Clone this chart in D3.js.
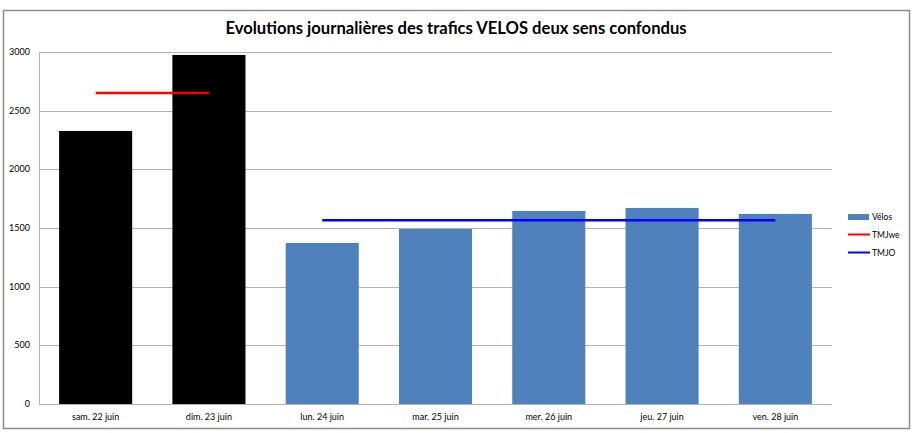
<!doctype html>
<html>
<head>
<meta charset="utf-8"/>
<title>Evolutions journalières des trafics VELOS</title>
<script src="https://d3js.org/d3.v7.min.js"></script>
<style>
  body { margin: 0; background: #fff; }
  text { font-family: Lato, "Open Sans", sans-serif; }
</style>
</head>
<body>
<div id="chart"></div>
<script>
// données
var jours = ["sam. 22 juin", "dim. 23 juin", "lun. 24 juin", "mar. 25 juin",
             "mer. 26 juin", "jeu. 27 juin", "ven. 28 juin"];
var velos = [2327, 2975, 1372, 1492, 1645, 1671, 1620];
var weekend = [true, true, false, false, false, false, false];
var tmjwe = 2651;   // moyenne sam-dim
var tmjo = 1566;    // moyenne lun-ven
var yTicks = [0, 500, 1000, 1500, 2000, 2500, 3000];
var legende = ["Vélos", "TMJwe", "TMJO"];

var W = 914, H = 433;
var gauche = 39, droite = 832, haut = 52, bas = 404;

var svg = d3.select("#chart").append("svg")
    .attr("width", W)
    .attr("height", H);

// cadre
svg.append("rect")
    .attr("x", 3.5).attr("y", 10.5)
    .attr("width", 906).attr("height", 418)
    .attr("fill", "white")
    .attr("stroke", "#8c8c8c")
    .attr("stroke-width", 1.5);

var x = d3.scaleBand()
    .domain(jours)
    .range([gauche, droite])
    .paddingInner(0.355)
    .paddingOuter(0.1775);

var y = d3.scaleLinear()
    .domain([0, 3000])
    .range([bas, haut]);

// grille
svg.append("g").selectAll("line")
    .data(yTicks)
    .enter().append("line")
    .attr("x1", gauche).attr("x2", droite)
    .attr("y1", function(d) { return Math.round(y(d)) + 0.5; })
    .attr("y2", function(d) { return Math.round(y(d)) + 0.5; })
    .attr("stroke", "#b3b3b3")
    .attr("stroke-width", 1);

// axe vertical
svg.append("line")
    .attr("x1", gauche + 0.5).attr("x2", gauche + 0.5)
    .attr("y1", haut).attr("y2", bas)
    .attr("stroke", "#b3b3b3");

svg.append("g").selectAll("text")
    .data(yTicks)
    .enter().append("text")
    .attr("x", 30)
    .attr("y", function(d) { return y(d) + 3; })
    .attr("text-anchor", "end")
    .attr("font-size", "9px")
    .text(function(d) { return d; });

// barres
svg.append("g").selectAll("rect")
    .data(velos)
    .enter().append("rect")
    .attr("x", function(d, i) { return x(jours[i]); })
    .attr("y", function(d) { return y(d); })
    .attr("width", x.bandwidth())
    .attr("height", function(d) { return bas - y(d); })
    .attr("fill", function(d, i) { return weekend[i] ? "#000000" : "#4f81bd"; });

// libellés x
svg.append("g").selectAll("text")
    .data(jours)
    .enter().append("text")
    .attr("x", function(d) { return x(d) + x.bandwidth() / 2; })
    .attr("y", 420)
    .attr("text-anchor", "middle")
    .attr("font-size", "9px")
    .text(function(d) { return d; });

// moyennes
var cx = function(j) { return x(j) + x.bandwidth() / 2; };
svg.append("line")
    .attr("x1", cx(jours[0])).attr("x2", cx(jours[1]))
    .attr("y1", y(tmjwe)).attr("y2", y(tmjwe))
    .attr("stroke", "#ff0000").attr("stroke-width", 2.5);
svg.append("line")
    .attr("x1", cx(jours[2])).attr("x2", cx(jours[6]))
    .attr("y1", y(tmjo)).attr("y2", y(tmjo))
    .attr("stroke", "#0000ff").attr("stroke-width", 2.5);

// titre
svg.append("text")
    .attr("x", 456)
    .attr("y", 34)
    .attr("text-anchor", "middle")
    .attr("font-size", "16.6px")
    .attr("font-weight", "bold")
    .text("Evolutions journalières des trafics VELOS deux sens confondus");

// légende
var leg = svg.append("g");
leg.append("rect")
    .attr("x", 848).attr("y", 214)
    .attr("width", 21).attr("height", 6)
    .attr("fill", "#4f81bd");
leg.append("line")
    .attr("x1", 848).attr("x2", 870)
    .attr("y1", 234.5).attr("y2", 234.5)
    .attr("stroke", "#ff0000").attr("stroke-width", 2);
leg.append("line")
    .attr("x1", 848).attr("x2", 870)
    .attr("y1", 252.5).attr("y2", 252.5)
    .attr("stroke", "#0000ff").attr("stroke-width", 2);
leg.selectAll("text")
    .data(legende)
    .enter().append("text")
    .attr("x", 872)
    .attr("y", function(d, i) { return 220 + i * 18; })
    .attr("font-size", "8.5px")
    .text(function(d) { return d; });
</script>
</body>
</html>
